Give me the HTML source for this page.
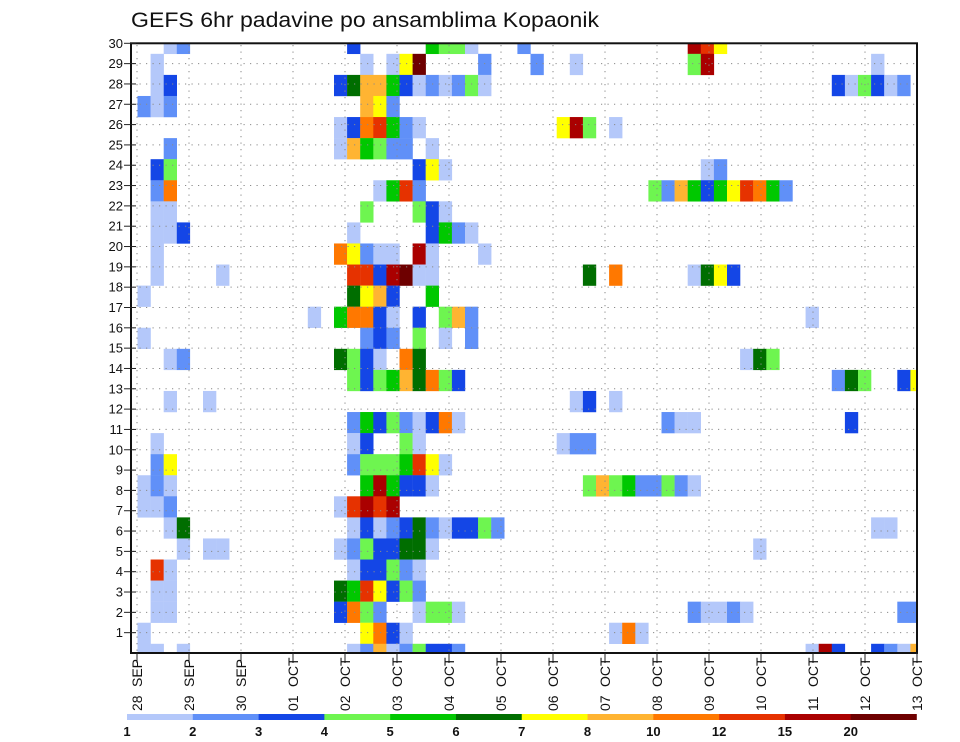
<!DOCTYPE html>
<html>
<head>
<meta charset="utf-8">
<style>
  html,body{margin:0;padding:0;background:#fff;}
  svg{display:block;}
  text{font-family:"Liberation Sans",sans-serif;}
</style>
</head>
<body>
<svg id="chart" width="960" height="742" viewBox="0 0 960 742" xmlns="http://www.w3.org/2000/svg">
  <text x="131" y="27" font-size="21" fill="#111" textLength="468" lengthAdjust="spacingAndGlyphs">GEFS 6hr padavine po ansamblima Kopaonik</text>
  <defs><clipPath id="plotclip"><rect x="131" y="43.3" width="786" height="609.7"/></clipPath></defs>
  <g id="cells" clip-path="url(#plotclip)"></g>
  <g id="grid"></g>
  <rect x="131" y="43.3" width="786" height="609.7" fill="none" stroke="#111" stroke-width="2"/>
  <g id="yaxis"></g>
  <g id="xaxis"></g>
  <g id="legend"></g>
</svg>
<script>
// ---- data ----
const dayLabels = ["28","29","30","01","02","03","04","05","06","07","08","09","10","11","12","13"];
const monthLabels = ["SEP","SEP","SEP","OCT","OCT","OCT","OCT","OCT","OCT","OCT","OCT","OCT","OCT","OCT","OCT","OCT"];
const memberTicks = [1,2,3,4,5,6,7,8,9,10,11,12,13,14,15,16,17,18,19,20,21,22,23,24,25,26,27,28,29,30];
const legendLabels = ["1","2","3","4","5","6","7","8","10","12","15","20"];
const levelColors = ["#b4c8fa","#6090f8","#1446e6","#6ef550","#00c800","#006e00","#ffff00","#ffb432","#ff7800","#e63200","#aa0000","#6e0000"];
// each row (top to bottom): "column:level" entries, level code 1..9,a,b,c
const rows = [
"2:1 3:2 16:3 22:5 23:4 24:4 25:1 29:2 42:b 43:a 44:7",
"1:1 17:1 19:1 20:7 21:c 26:2 30:2 33:1 42:4 43:b 56:1",
"1:1 2:3 15:3 16:6 17:8 18:8 19:5 20:3 21:1 22:2 23:1 24:2 25:4 26:1 53:3 54:1 55:4 56:3 57:1 58:2",
"0:2 1:1 2:2 17:8 18:7 19:2",
"15:1 16:3 17:9 18:a 19:5 20:2 21:1 32:7 33:b 34:4 36:1",
"2:2 15:1 16:8 17:5 18:4 19:2 20:2 22:1",
"1:3 2:4 21:3 22:7 23:1 43:1 44:2",
"1:2 2:9 18:1 19:5 20:a 21:2 39:4 40:2 41:8 42:5 43:3 44:5 45:7 46:a 47:9 48:5 49:2",
"1:1 2:1 17:4 21:4 22:3 23:1",
"1:1 2:1 3:3 16:1 22:3 23:5 24:2 25:1",
"1:1 15:9 16:7 17:2 18:1 19:1 21:b 22:1 26:1",
"1:1 6:1 16:a 17:a 18:3 19:b 20:c 21:1 22:1 34:6 36:9 42:1 43:6 44:7 45:3",
"0:1 16:6 17:7 18:8 19:3 22:5",
"13:1 15:5 16:9 17:9 18:3 19:1 21:3 23:4 24:8 25:2 51:1",
"0:1 17:2 18:3 19:2 21:4 23:1 25:2",
"2:1 3:2 15:6 16:4 17:3 18:1 20:9 21:6 46:1 47:6 48:4",
"16:4 17:3 18:4 19:5 20:8 21:6 22:9 23:4 24:3 53:2 54:6 55:4 58:3 59:7",
"2:1 5:1 33:1 34:3 36:1",
"16:2 17:5 18:3 19:4 20:2 21:1 22:3 23:9 24:1 40:2 41:1 42:1 54:3",
"1:1 16:1 17:3 20:4 21:1 32:1 33:2 34:2",
"1:2 2:7 16:2 17:4 18:4 19:4 20:5 21:a 22:7 23:1",
"0:1 1:2 2:1 17:5 18:b 19:5 20:3 21:3 22:1 34:4 35:8 36:4 37:5 38:2 39:2 40:4 41:2 42:1",
"0:1 1:1 2:2 15:1 16:a 17:b 18:a 19:b",
"2:1 3:6 16:1 17:3 18:1 19:2 20:3 21:6 22:2 23:1 24:3 25:3 26:4 27:2 56:1 57:1",
"3:1 5:1 6:1 15:1 16:2 17:4 18:3 19:3 20:6 21:6 22:1 47:1",
"1:a 2:1 16:1 17:3 18:3 19:4 20:2 21:1",
"1:1 2:1 15:6 16:5 17:a 18:7 19:3 20:4 21:2",
"1:1 2:1 15:3 16:9 17:4 18:2 21:1 22:4 23:4 24:1 42:2 43:1 44:1 45:2 46:1 58:2 59:2",
"0:1 17:7 18:9 19:3 20:1 36:1 37:9 38:1",
"0:1 1:1 3:1 16:1 17:2 18:8 19:1 20:2 21:4 22:3 23:3 24:2 51:1 52:b 53:3 56:3 57:2 58:1 59:8"
];

// ---- axis functions ----
const NS = "http://www.w3.org/2000/svg";
const colX = j => 137.5 + 13.1 * j;
const CW = 13.1;
const rowY = r => 43.3 + 21.07 * r;
const RH = 21.07;
const memberY = k => 43.3 + 20.323 * (30 - k);
const dayX = d => 137 + 52 * d;
function mk(tag, attrs, parent){ const e = document.createElementNS(NS, tag); for (const k in attrs) e.setAttribute(k, attrs[k]); parent.appendChild(e); return e; }

const cells = document.getElementById('cells');
rows.forEach((row, r) => {
  row.split(' ').forEach(tok => {
    if (!tok) return;
    const [j, c] = tok.split(':');
    const lvl = parseInt(c, 16);
    const rect = mk('rect', {x: colX(+j), y: rowY(r) - RH/2, width: CW + 0.2, height: RH + 0.2, fill: levelColors[lvl-1]}, cells);
    
    
  });
});

const grid = document.getElementById('grid');
for (let d = 0; d < dayLabels.length - 1; d++) {
  const l = mk('line', {x1: dayX(d), x2: dayX(d), y1: 45, y2: 652, stroke: '#8a8a8a', 'stroke-width': 1, 'stroke-dasharray': '1.2 5.3'}, grid);
  
  
}
memberTicks.forEach(k => {
  if (k === 30) return;
  const l = mk('line', {x1: 133, x2: 916, y1: memberY(k), y2: memberY(k), stroke: '#8a8a8a', 'stroke-width': 1, 'stroke-dasharray': '1.2 5.3'}, grid);
  
  
});

const yaxis = document.getElementById('yaxis');
memberTicks.forEach(k => {
  const y = memberY(k);
  const t = mk('line', {x1: 124, x2: 136, y1: y, y2: y, stroke: '#222', 'stroke-width': 1}, yaxis);
  
  
  const lbl = mk('text', {x: 123, y: y + 4.5, 'font-size': 13, 'text-anchor': 'end', fill: '#111'}, yaxis);
  lbl.textContent = k;
  
  
});

const xaxis = document.getElementById('xaxis');
dayLabels.forEach((dl, d) => {
  const x = dayX(d);
  const t = mk('line', {x1: x, x2: x, y1: 653, y2: 663, stroke: '#222', 'stroke-width': 1}, xaxis);
  
  
  const m = mk('text', {x: 0, y: 0, 'font-size': 14, fill: '#111', transform: `translate(${x + 5},687) rotate(-90)`}, xaxis);
  m.textContent = monthLabels[d];
  
  
  const dd = mk('text', {x: 0, y: 0, 'font-size': 14, fill: '#111', transform: `translate(${x + 5},711) rotate(-90)`}, xaxis);
  dd.textContent = dl;
  
  
});

const legend = document.getElementById('legend');
const LW = (916.5 - 127) / levelColors.length;
levelColors.forEach((c, i) => {
  const r = mk('rect', {x: 127 + LW * i, y: 714, width: LW + 0.3, height: 6, fill: c}, legend);
  
  
});
legendLabels.forEach((s, i) => {
  const t = mk('text', {x: 127 + LW * i, y: 736, 'font-size': 13, 'font-weight': 'bold', 'text-anchor': 'middle', fill: '#111'}, legend);
  t.textContent = s;
  
  
});
</script>
</body>
</html>
